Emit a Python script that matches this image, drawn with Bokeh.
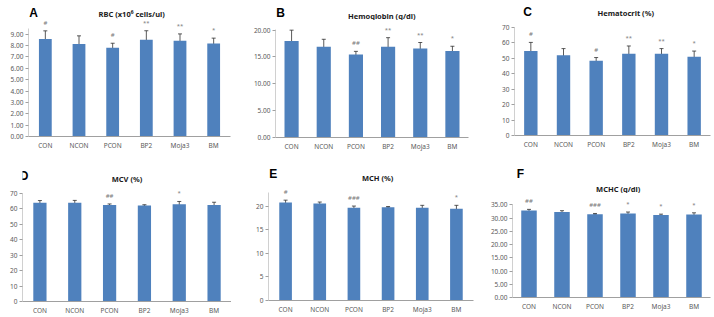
from bokeh.plotting import figure
from bokeh.models import (ColumnDataSource, FactorRange, Range1d, FixedTicker,
                          NumeralTickFormatter, Whisker, TeeHead, LabelSet)
from bokeh.layouts import row, column
from bokeh.embed import file_html
from bokeh.resources import INLINE
from bokeh.core.properties import value

# ---------------- data ----------------
groups = ["CON", "NCON", "PCON", "BP2", "Moja3", "BM"]

rbc_mean = [8.57, 8.13, 7.80, 8.50, 8.42, 8.18]
rbc_sd = [0.72, 0.72, 0.40, 0.80, 0.60, 0.47]
rbc_sig = ["#", "", "#", "**", "**", "*"]
rbc_ticks = [0, 1, 2, 3, 4, 5, 6, 7, 8, 9]

hgb_mean = [18.0, 16.9, 15.45, 16.9, 16.6, 16.1]
hgb_sd = [2.0, 1.4, 0.6, 1.7, 1.1, 0.9]
hgb_sig = ["", "", "##", "**", "**", "*"]
hgb_ticks = [0, 5, 10, 15, 20]

hct_mean = [54.8, 52.0, 48.5, 53.0, 53.0, 51.0]
hct_sd = [5.5, 4.3, 2.0, 5.0, 3.3, 3.7]
hct_sig = ["#", "", "#", "**", "**", "*"]
hct_ticks = [0, 10, 20, 30, 40, 50, 60, 70]

mcv_mean = [63.9, 64.0, 62.5, 62.2, 63.0, 62.5]
mcv_sd = [1.5, 1.5, 0.7, 0.5, 1.8, 1.8]
mcv_sig = ["", "", "##", "", "*", ""]
mcv_ticks = [0, 10, 20, 30, 40, 50, 60, 70]

mch_mean = [20.8, 20.6, 19.7, 19.8, 19.7, 19.5]
mch_sd = [0.5, 0.3, 0.35, 0.15, 0.5, 0.7]
mch_sig = ["#", "", "###", "", "", "*"]
mch_ticks = [0, 5, 10, 15, 20]

mchc_mean = [32.9, 32.3, 31.5, 31.7, 31.2, 31.4]
mchc_sd = [0.4, 0.5, 0.25, 0.6, 0.3, 0.6]
mchc_sig = ["##", "", "###", "*", "*", "*"]
mchc_ticks = [0, 5, 10, 15, 20, 25, 30, 35]

panels = [
    dict(letter="A", title="RBC (x10\u2076 cells/ul)", mean=rbc_mean, sd=rbc_sd, sig=rbc_sig, ticks=rbc_ticks, fmt="0.00"),
    dict(letter="B", title="Hemoglobin (g/dl)", mean=hgb_mean, sd=hgb_sd, sig=hgb_sig, ticks=hgb_ticks, fmt="0.00"),
    dict(letter="C", title="Hematocrit (%)", mean=hct_mean, sd=hct_sd, sig=hct_sig, ticks=hct_ticks, fmt="0"),
    dict(letter="D", title="MCV (%)", mean=mcv_mean, sd=mcv_sd, sig=mcv_sig, ticks=mcv_ticks, fmt="0"),
    dict(letter="E", title="MCH (%)", mean=mch_mean, sd=mch_sd, sig=mch_sig, ticks=mch_ticks, fmt="0"),
    dict(letter="F", title="MCHC (g/dl)", mean=mchc_mean, sd=mchc_sd, sig=mchc_sig, ticks=mchc_ticks, fmt="0.00"),
]

# ---------------- layout / style (pixels) ----------------
# x0,y0: panel origin; w: width; hh: header height; ph: plot height;
# l,r,b: borders; ymax: visible range top; atop: axis line top;
# bw: bar width; (lx,ly) letter position, (tx,ty) title centre, absolute px
layout = [
    dict(x0=0,   y0=0,   w=231, hh=20, ph=138, l=28, r=1, b=22, ymax=10.2, atop=9.5,  bw=0.38, lx=1,   ly=12, tx=118,   ty=13),
    dict(x0=231, y0=0,   w=238, hh=20, ph=138, l=44, r=1, b=21, ymax=21.8, atop=20.1, bw=0.44, lx=232, ly=12, tx=362,   ty=15),
    dict(x0=469, y0=0,   w=245, hh=20, ph=138, l=45, r=4, b=23, ymax=74.5, atop=70,   bw=0.41, lx=480, ly=11, tx=608,   ty=12.5),
    dict(x0=0,   y0=158, w=231, hh=28, ph=131, l=22, r=0, b=16, ymax=74.5, atop=70,   bw=0.38, lx=-3,  ly=175, tx=115.5, ty=178),
    dict(x0=231, y0=158, w=247, hh=28, ph=131, l=37, r=5, b=17, ymax=24.2, atop=22.9, bw=0.37, lx=232, ly=173, tx=362.5, ty=177),
    dict(x0=478, y0=158, w=236, hh=35, ph=124, l=34, r=4, b=20, ymax=39.3, atop=35,   bw=0.47, lx=483, ly=173, tx=604,   ty=188.5),
]

BAR = "#4F81BD"
FONT = "Noto Sans"
TICK_COLOR = "#595959"

cols = []
for pn, lo in zip(panels, layout):
    # ---- header (panel letter + title) ----
    hd = figure(width=lo["w"], height=lo["hh"], x_range=Range1d(0, lo["w"]),
                y_range=Range1d(lo["hh"], 0), output_backend="svg",
                toolbar_location=None, title=None, min_border=0)
    hd.axis.visible = False
    hd.grid.visible = False
    hd.outline_line_color = None
    hd.background_fill_color = "white"
    hd.border_fill_color = "white"
    hd.text(x=[lo["lx"] - lo["x0"]], y=[lo["ly"] - lo["y0"]], text=[pn["letter"]],
            text_font=value("Liberation Sans"), text_font_style="bold",
            text_font_size="12px", text_color="black",
            text_align="left", text_baseline="middle")
    hd.text(x=[lo["tx"] - lo["x0"]], y=[lo["ty"] - lo["y0"]], text=[pn["title"]],
            text_font=value(FONT), text_font_style="bold",
            text_font_size="7.5px", text_color="#1a1a1a",
            text_align="center", text_baseline="middle")

    # ---- bar chart ----
    upper = [m + s for m, s in zip(pn["mean"], pn["sd"])]
    lower = [m - s for m, s in zip(pn["mean"], pn["sd"])]
    src = ColumnDataSource(dict(x=groups, mean=pn["mean"], upper=upper, lower=lower, sig=pn["sig"]))

    p = figure(width=lo["w"], height=lo["ph"], x_range=FactorRange(*groups),
               y_range=Range1d(0, lo["ymax"]), output_backend="svg",
               toolbar_location=None, title=None,
               min_border_left=lo["l"], min_border_right=lo["r"],
               min_border_top=0, min_border_bottom=lo["b"])
    p.outline_line_color = None
    p.xgrid.visible = False
    p.ygrid.visible = False
    p.background_fill_color = "white"
    p.border_fill_color = "white"

    p.vbar(x="x", top="mean", width=lo["bw"], source=src, fill_color=BAR, line_color=None)

    wh = Whisker(base="x", upper="upper", lower="lower", source=src,
                 line_color="#303030", line_width=0.8,
                 upper_head=TeeHead(size=4, line_color="#303030", line_width=0.8),
                 lower_head=TeeHead(size=4, line_color="#303030", line_width=0.8))
    p.add_layout(wh)

    ls = LabelSet(x="x", y="upper", text="sig", source=src, text_align="center",
                  text_baseline="bottom", y_offset=4, text_font_size="6px",
                  text_color="#7a7a7a", text_font=value(FONT))
    p.add_layout(ls)

    p.yaxis.bounds = (0, lo["atop"])
    p.yaxis.ticker = FixedTicker(ticks=pn["ticks"])
    p.yaxis.formatter = NumeralTickFormatter(format=pn["fmt"])
    p.yaxis.axis_line_color = "#d0d0d0"
    p.yaxis.major_tick_line_color = "#a0a0a0"
    p.yaxis.major_tick_out = 3
    p.yaxis.major_tick_in = 0
    p.yaxis.minor_tick_line_color = None
    p.yaxis.major_label_standoff = 2
    p.yaxis.major_label_text_font_size = "6.5px"
    p.yaxis.major_label_text_color = TICK_COLOR
    p.yaxis.major_label_text_font = FONT

    p.xaxis.axis_line_color = "#a0a0a0"
    p.xaxis.major_tick_line_color = None
    p.xaxis.major_tick_out = 0
    p.xaxis.major_tick_in = 0
    p.xaxis.major_label_standoff = 4
    p.xaxis.major_label_text_font_size = "6.5px"
    p.xaxis.major_label_text_color = TICK_COLOR
    p.xaxis.major_label_text_font = FONT

    cols.append(column(hd, p, spacing=0))

layout_obj = column(row(*cols[:3], spacing=0), row(*cols[3:], spacing=0), spacing=0)
open("out.html", "w").write(file_html(layout_obj, INLINE))
